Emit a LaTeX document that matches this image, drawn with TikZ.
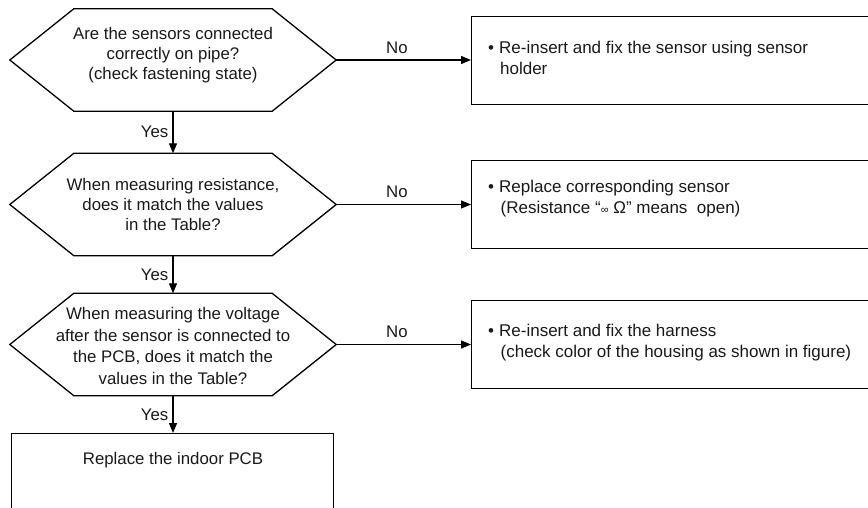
\documentclass[tikz,border=0pt]{standalone}
\usepackage{fontspec}
\setmainfont{Liberation Sans}
\usetikzlibrary{arrows.meta}
\tikzset{
  line/.style={line width=1.3pt, draw=black},
  arr/.style={line width=1.3pt, -{Triangle[length=10pt,width=8pt]}},
  hexframe/.style={minimum width=326pt, minimum height=102pt, inner sep=0pt},
  txt/.style={font=\fontsize{16.8}{20}\selectfont, text=black!90, inner sep=0pt, align=center},
  lbl/.style={font=\fontsize{16.8}{20}\selectfont, text=black!90, inner sep=0pt},
  boxtxt/.style={font=\fontsize{17}{21}\selectfont, text=black!90, inner sep=0pt, anchor=west},
}
\newcommand{\hexdraw}[1]{%
  \draw[line] (#1.west) -- ([xshift=64pt]#1.north west) -- ([xshift=-64pt]#1.north east)
    -- (#1.east) -- ([xshift=-64pt]#1.south east) -- ([xshift=64pt]#1.south west) -- cycle;}
\begin{document}
\begin{tikzpicture}[x=1pt,y=-1pt]
\useasboundingbox (0,0) rectangle (868,507);
\clip (0,0) rectangle (868,507);
% decision hexagons
\node[hexframe] (h1) at (173,60) {};
\node[hexframe] (h2) at (173,204.5) {};
\node[hexframe] (h3) at (173,344.5) {};
\hexdraw{h1}
\hexdraw{h2}
\hexdraw{h3}
\node[txt] (q1) at (173,55) {Are the sensors connected\\correctly on pipe?\\(check fastening state)};
\node[txt] (q2) at (173,204) {When measuring resistance,\\does it match the values\\in the Table?};
\node[txt, font=\fontsize{16.8}{21.5}\selectfont] (q3) at (173,346) {When measuring the voltage\\after the sensor is connected to\\the PCB, does it match the\\values in the Table?};
% action boxes (extending past the picture edge)
\node[line, draw, minimum width=440pt, minimum height=88pt, anchor=north west, inner sep=0pt] (b1) at (471,16) {};
\node[line, draw, minimum width=440pt, minimum height=88pt, anchor=north west, inner sep=0pt] (b2) at (471,160) {};
\node[line, draw, minimum width=440pt, minimum height=88pt, anchor=north west, inner sep=0pt] (b3) at (471,300) {};
\node[line, draw, minimum width=322pt, minimum height=120pt, anchor=north west, inner sep=0pt] (b4) at (11,433) {};
\node[boxtxt] (t1) at (488,60) {\begin{tabular}{@{}l@{\hspace{5pt}}l@{}}•&Re-insert and fix the sensor using sensor\\&\hspace{1pt}holder\end{tabular}};
\node[boxtxt] (t2) at (488,199) {\begin{tabular}{@{}l@{\hspace{5pt}}l@{}}•&Replace corresponding sensor\\&\hspace{1.5pt}(Resistance “{\fontsize{11}{11}\selectfont∞} Ω” means\ \ open)\end{tabular}};
\node[boxtxt] (t3) at (488,343) {\begin{tabular}{@{}l@{\hspace{5pt}}l@{}}•&Re-insert and fix the harness\\&\hspace{1.5pt}(check color of the housing as shown in figure)\end{tabular}};
\node[txt] (t4) at (173,460) {Replace the indoor PCB};
% connectors
\draw[arr] (h1.south) -- (h2.north) node[lbl, midway, left=4pt] {Yes};
\draw[arr] (h2.south) -- (h3.north) node[lbl, midway, left=4pt] {Yes};
\draw[arr] (h3.south) -- (b4.north -| h3.south) node[lbl, midway, left=4pt] {Yes};
\draw[arr] (h1.east) -- (b1.west |- h1.east) node[lbl, pos=0.45, above=6pt] {No};
\draw[arr] (h2.east) -- (b2.west |- h2.east) node[lbl, pos=0.45, above=6pt] {No};
\draw[arr] (h3.east) -- (b3.west |- h3.east) node[lbl, pos=0.45, above=6pt] {No};
\end{tikzpicture}
\end{document}
